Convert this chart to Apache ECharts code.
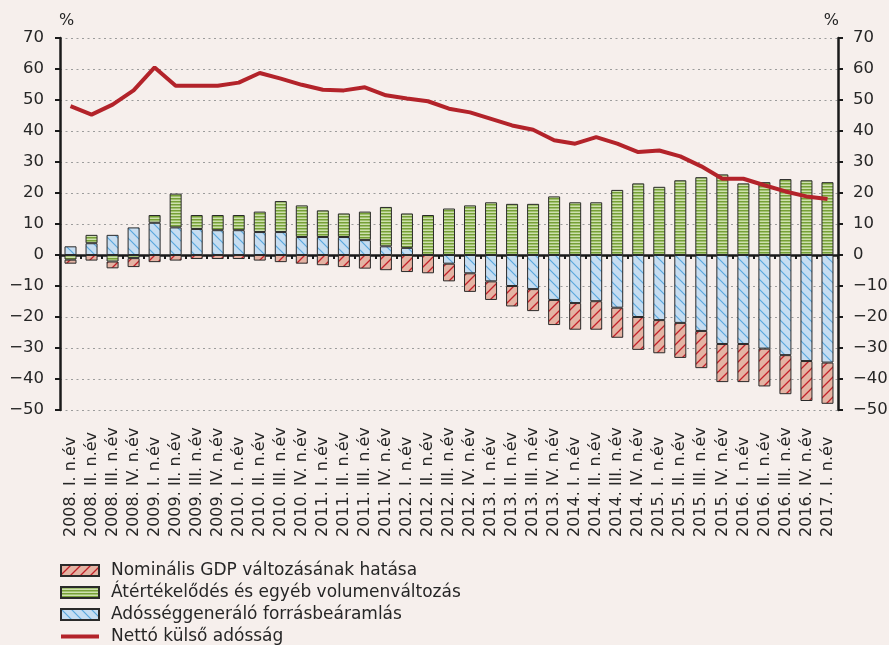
<!DOCTYPE html>
<html>
<head>
<meta charset="utf-8">
<script src="https://cdn.jsdelivr.net/npm/echarts@6/dist/echarts.min.js"></script>
<style>
  html, body { margin: 0; padding: 0; background: #f6efec; }
  #chart { width: 889px; height: 645px; }
</style>
</head>
<body>
<div id="chart"></div>
<script>
// negyedévek
const categories = [
  '2008. I. n.év', '2008. II. n.év', '2008. III. n.év', '2008. IV. n.év',
  '2009. I. n.év', '2009. II. n.év', '2009. III. n.év', '2009. IV. n.év',
  '2010. I. n.év', '2010. II. n.év', '2010. III. n.év', '2010. IV. n.év',
  '2011. I. n.év', '2011. II. n.év', '2011. III. n.év', '2011. IV. n.év',
  '2012. I. n.év', '2012. II. n.év', '2012. III. n.év', '2012. IV. n.év',
  '2013. I. n.év', '2013. II. n.év', '2013. III. n.év', '2013. IV. n.év',
  '2014. I. n.év', '2014. II. n.év', '2014. III. n.év', '2014. IV. n.év',
  '2015. I. n.év', '2015. II. n.év', '2015. III. n.év', '2015. IV. n.év',
  '2016. I. n.év', '2016. II. n.év', '2016. III. n.év', '2016. IV. n.év',
  '2017. I. n.év'
]

const debtInflow = [2.8, 3.8, 6.5, 8.9, 10.4, 8.9, 8.4, 8.0, 8.0, 7.4, 7.4, 5.8, 5.8, 5.8, 4.8, 2.8, 2.3, 0,
  -2.8, -5.9, -8.5, -10.0, -11.0, -14.5, -15.5, -14.9, -17.0, -20.0, -21.0, -21.9, -24.5, -28.7, -28.7,
  -30.2, -32.3, -34.2, -34.7]
const revaluation = [-1.5, 2.7, -2.1, -1.0, 2.5, 10.9, 4.5, 4.9, 4.9, 6.6, 10.0, 10.2, 8.6, 7.6, 9.2, 12.7, 11.1,
  12.9, 15.0, 16.0, 17.0, 16.5, 16.5, 18.9, 17.0, 17.0, 21.0, 23.1, 22.0, 24.1, 25.1, 26.0, 23.1, 23.5,
  24.5, 24.1, 23.5]
const gdpEffect = [-1.3, -1.8, -2.2, -2.9, -2.3, -1.8, -1.3, -1.3, -1.3, -1.8, -2.3, -2.8, -3.3, -3.9, -4.4, -4.9,
  -5.5, -5.9, -5.7, -6.0, -6.0, -6.6, -7.1, -8.1, -8.6, -9.2, -9.7, -10.6, -10.7, -11.3, -12.0, -12.3,
  -12.3, -12.2, -12.6, -12.9, -13.3]
const netDebt = [48.0, 45.3, 48.5, 53.1, 60.5, 54.6, 54.6, 54.6, 55.6, 58.7, 56.9, 54.9, 53.3, 53.1, 54.1, 51.5,
  50.5, 49.6, 47.2, 46.0, 43.9, 41.8, 40.4, 37.0, 35.9, 38.0, 35.9, 33.2, 33.7, 31.8, 28.6, 24.6, 24.6,
  22.5, 20.5, 18.9, 18.1]

const FONT = 'DejaVu Sans'
const TXT = '#262626'
const LINE_RED = '#b3232a'

function pattern(w, h, bg, draw) {
  const c = document.createElement('canvas')
  c.width = w
  c.height = h
  const ctx = c.getContext('2d')
  ctx.fillStyle = bg
  ctx.fillRect(0, 0, w, h)
  draw(ctx)
  return { image: c, repeat: 'repeat' }
}

// piros, "/" vonalak
const redFill = pattern(10, 10, '#e4b3a3', ctx => {
  ctx.strokeStyle = '#c2212a'
  ctx.lineWidth = 1.3
  ctx.beginPath()
  ctx.moveTo(-1, 11); ctx.lineTo(11, -1)
  ctx.moveTo(-6, 6); ctx.lineTo(6, -6)
  ctx.moveTo(4, 16); ctx.lineTo(16, 4)
  ctx.stroke()
})
// zöld, vízszintes csíkok
const greenFill = pattern(4, 3, '#cde0ad', ctx => {
  ctx.fillStyle = '#76a036'
  ctx.fillRect(0, 0, 4, 1.5)
})
// kék, "\" vonalak
const blueFill = pattern(10, 10, '#c6ddf1', ctx => {
  ctx.strokeStyle = '#5aa8dd'
  ctx.lineWidth = 1.2
  ctx.beginPath()
  ctx.moveTo(-1, -1); ctx.lineTo(11, 11)
  ctx.moveTo(-6, 4); ctx.lineTo(6, 16)
  ctx.moveTo(4, -6); ctx.lineTo(16, 6)
  ctx.stroke()
})

const valueAxis = (pos) => ({
  type: 'value',
  position: pos,
  min: -50,
  max: 70,
  interval: 10,
  name: '%',
  nameLocation: 'end',
  nameGap: 9,
  nameTextStyle: { fontFamily: FONT, fontSize: 16, color: TXT, align: pos === 'left' ? 'left' : 'right', padding: pos === 'left' ? [0, 0, 0, -1] : [0, -1, 0, 0] },
  axisLine: { show: true, lineStyle: { color: '#1a1a1a', width: 2.5 } },
  axisTick: { show: true, length: 5, lineStyle: { color: '#1a1a1a', width: 2 } },
  axisLabel: {
    fontFamily: FONT,
    fontSize: 16.5,
    color: TXT,
    margin: pos === 'left' ? 16 : 15,
    formatter: v => (v < 0 ? '\u2212' + Math.abs(v) : String(v))
  },
  splitLine: pos === 'left'
    ? { show: true, lineStyle: { color: '#9c9c9c', width: 1, type: [2, 3.5] } }
    : { show: false }
})

const chart = echarts.init(document.getElementById('chart'))
chart.setOption({
  backgroundColor: '#f6efec',
  animation: false,
  grid: { left: 60, right: 51, top: 38, bottom: 235, outerBoundsMode: 'none' },
  legend: {
    orient: 'vertical',
    left: 55,
    top: 557,
    height: 120,
    itemWidth: 38,
    itemHeight: 11,
    itemGap: 5,
    textStyle: { fontFamily: FONT, fontSize: 17, color: TXT, padding: [0, 0, 0, 7] },
    data: [
      { name: 'Nominális GDP változásának hatása', icon: 'rect' },
      { name: 'Átértékelődés és egyéb volumenváltozás', icon: 'rect' },
      { name: 'Adósséggeneráló forrásbeáramlás', icon: 'rect' },
      { name: 'Nettó külső adósság', icon: 'path://M0 0H38V4H0Z', itemStyle: { color: LINE_RED } }
    ]
  },
  xAxis: {
    type: 'category',
    data: categories,
    axisLine: { onZero: true, lineStyle: { color: '#1a1a1a', width: 2.5 } },
    axisTick: { show: true, length: 4, lineStyle: { color: '#1a1a1a', width: 2 } },
    axisLabel: {
      interval: 0,
      rotate: 90,
      align: 'left',
      margin: 127,
      fontFamily: FONT,
      fontSize: 16,
      color: TXT
    }
  },
  yAxis: [valueAxis('left'), valueAxis('right')],
  series: [
    {
      name: 'Adósséggeneráló forrásbeáramlás',
      type: 'bar',
      stack: 'a',
      barWidth: 12,
      itemStyle: { color: blueFill, borderColor: '#2a2a2a', borderWidth: 1 },
      data: debtInflow
    },
    {
      name: 'Átértékelődés és egyéb volumenváltozás',
      type: 'bar',
      stack: 'a',
      barWidth: 12,
      itemStyle: { color: greenFill, borderColor: '#2a2a2a', borderWidth: 1 },
      data: revaluation
    },
    {
      name: 'Nominális GDP változásának hatása',
      type: 'bar',
      stack: 'a',
      barWidth: 12,
      itemStyle: { color: redFill, borderColor: '#2a2a2a', borderWidth: 1 },
      data: gdpEffect
    },
    {
      name: 'Nettó külső adósság',
      type: 'line',
      symbol: 'none',
      lineStyle: { color: LINE_RED, width: 4 },
      itemStyle: { color: LINE_RED },
      data: netDebt
    }
  ]
})
</script>
</body>
</html>
